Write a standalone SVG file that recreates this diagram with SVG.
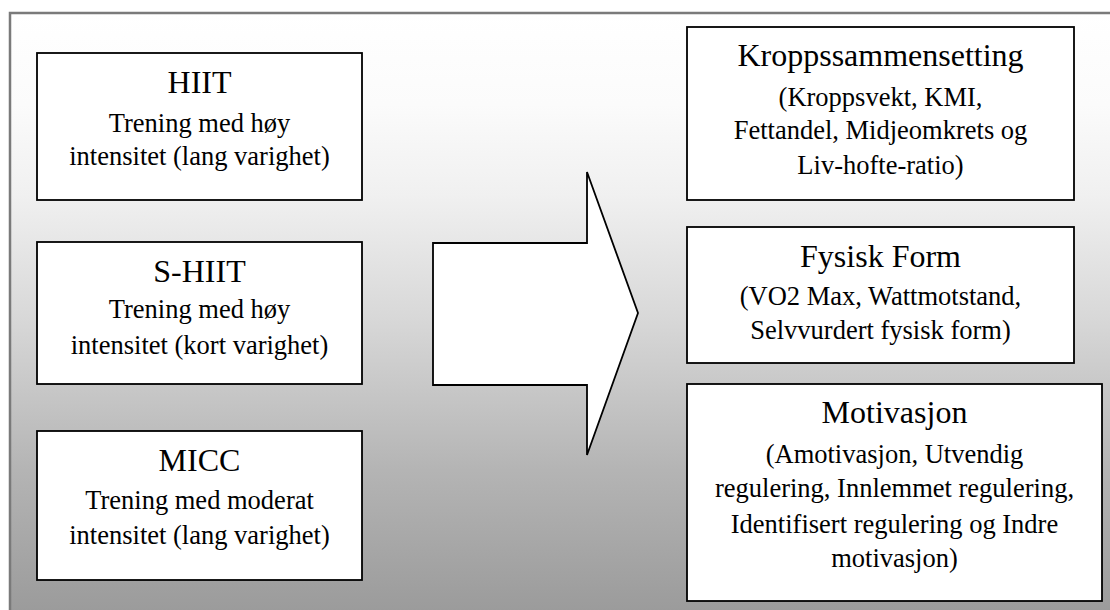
<svg xmlns="http://www.w3.org/2000/svg" width="1110" height="610" viewBox="0 0 1110 610">
<style>
.box{fill:#fff;stroke:#000;stroke-width:1.8}
.t{font-family:"Liberation Serif","Times New Roman",serif;fill:#000;text-anchor:middle}
.h{font-size:32px}
.b{font-size:26.5px}
</style>
<defs>
<linearGradient id="bg" x1="0" y1="0" x2="0" y2="1">
<stop offset="0" stop-color="#ffffff"/>
<stop offset="0.15" stop-color="#fbfbfb"/>
<stop offset="0.3" stop-color="#f0f0f0"/>
<stop offset="0.5" stop-color="#d8d8d8"/>
<stop offset="0.75" stop-color="#b4b4b4"/>
<stop offset="1" stop-color="#999999"/>
</linearGradient>
</defs>
<rect x="0" y="0" width="1110" height="610" fill="#fff"/>
<rect id="frame" x="10" y="13" width="1110" height="610" fill="url(#bg)" stroke="#7a7a7a" stroke-width="2.5"/>
<g id="connectors">
<path class="box" d="M433,243 L587,243 L587,172 L638,313 L587,455 L587,385 L433,385 Z"/>
</g>
<g id="hiit">
<rect class="box" x="37" y="53" width="325" height="147"/>
<text class="t h" x="199.5" y="93">HIIT</text>
<text class="t b" x="199.5" y="131.5">Trening med høy</text>
<text class="t b" x="199.5" y="165">intensitet (lang varighet)</text>
</g>
<g id="shiit">
<rect class="box" x="37" y="242" width="325" height="142"/>
<text class="t h" x="199.5" y="282">S-HIIT</text>
<text class="t b" x="199.5" y="318">Trening med høy</text>
<text class="t b" x="199.5" y="354">intensitet (kort varighet)</text>
</g>
<g id="micc">
<rect class="box" x="37" y="431" width="325" height="149"/>
<text class="t h" x="199.5" y="471">MICC</text>
<text class="t b" x="199.5" y="509">Trening med moderat</text>
<text class="t b" x="199.5" y="544">intensitet (lang varighet)</text>
</g>
<g id="kropp">
<rect class="box" x="687" y="27" width="387" height="173"/>
<text class="t h" x="880.5" y="66">Kroppssammensetting</text>
<text class="t b" x="880.5" y="106">(Kroppsvekt, KMI,</text>
<text class="t b" x="880.5" y="139">Fettandel, Midjeomkrets og</text>
<text class="t b" x="880.5" y="174">Liv-hofte-ratio)</text>
</g>
<g id="fysisk">
<rect class="box" x="687" y="227" width="387" height="136"/>
<text class="t h" x="880.5" y="267">Fysisk Form</text>
<text class="t b" x="880.5" y="305">(VO2 Max, Wattmotstand,</text>
<text class="t b" x="880.5" y="339">Selvvurdert fysisk form)</text>
</g>
<g id="motivasjon">
<rect class="box" x="687" y="384" width="415" height="217"/>
<text class="t h" x="894.5" y="423">Motivasjon</text>
<text class="t b" x="894.5" y="463">(Amotivasjon, Utvendig</text>
<text class="t b" x="894.5" y="497">regulering, Innlemmet regulering,</text>
<text class="t b" x="894.5" y="533">Identifisert regulering og Indre</text>
<text class="t b" x="894.5" y="567">motivasjon)</text>
</g>
</svg>
